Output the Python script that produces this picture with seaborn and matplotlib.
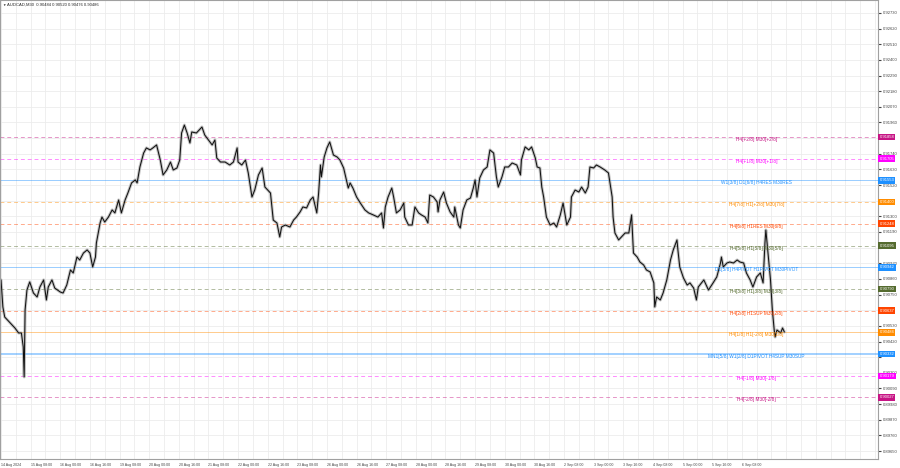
import matplotlib
matplotlib.use("Agg")
import matplotlib.pyplot as plt
import seaborn as sns
import pandas as pd

# AUDCAD M30, bar number counted from the left edge, and price
bar_idx = [0, 2, 4, 10, 15, 19, 22, 24, 25, 26, 28, 31, 35, 39, 42, 46, 49, 51, 55, 58,
           64, 67, 71, 75, 78, 82, 85, 89, 93, 96, 99, 102, 103, 107, 109, 112, 116, 120, 123, 127,
           130, 134, 137, 141, 145, 147, 150, 154, 157, 161, 164, 168, 172, 175, 179, 183, 186, 190, 193, 195,
           198, 201, 204, 206, 211, 217, 220, 224, 228, 231, 233, 237, 242, 247, 251, 255, 256, 260, 264, 267,
           271, 274, 278, 282, 285, 291, 294, 298, 301, 303, 307, 312, 316, 319, 323, 326, 330, 334, 337, 341,
           343, 345, 346, 349, 352, 355, 359, 363, 366, 370, 375, 377, 380, 384, 388, 393, 397, 402, 407, 411,
           413, 415, 418, 422, 424, 427, 431, 435, 436, 440, 444, 447, 451, 454, 458, 461, 463, 467, 471, 472,
           474, 478, 481, 485, 489, 490, 494, 496, 499, 503, 507, 510, 512, 514, 517, 521, 525, 528, 532, 535,
           537, 541, 544, 548, 552, 557, 561, 562, 566, 570, 573, 577, 579, 582, 584, 586, 589, 593, 597, 600,
           604, 607, 611, 615, 616, 620, 624, 627, 631, 634, 636, 640, 643, 647, 652, 656, 660, 661, 663, 667,
           670, 674, 678, 681, 683, 687, 690, 694, 697, 701, 705, 706, 708, 712, 715, 719, 723, 726, 730, 731,
           733, 737, 741, 744, 748, 751, 753, 759, 764, 769, 773, 777, 778, 780, 784, 787, 791, 795, 798, 802,
           805, 809, 812, 816, 820, 823, 825, 826, 828, 831, 833, 835, 836, 838, 842, 844, 846]
close = [0.90853, 0.90663, 0.90592, 0.90550, 0.90515, 0.90480, 0.90480, 0.90382, 0.90171, 0.90642,
         0.90782, 0.90839, 0.90761, 0.90733, 0.90803, 0.90853, 0.90712, 0.90803, 0.90853, 0.90796,
         0.90768, 0.90761, 0.90817, 0.90923, 0.90902, 0.91014, 0.90993, 0.91042, 0.91064, 0.91042,
         0.90944, 0.91014, 0.91113, 0.91253, 0.91295, 0.91260, 0.91295, 0.91345, 0.91324, 0.91415,
         0.91324, 0.91415, 0.91464, 0.91535, 0.91556, 0.91535, 0.91647, 0.91745, 0.91781, 0.91767,
         0.91781, 0.91802, 0.91696, 0.91591, 0.91626, 0.91682, 0.91626, 0.91640, 0.91696, 0.91886,
         0.91942, 0.91886, 0.91816, 0.91893, 0.91886, 0.91928, 0.91872, 0.91837, 0.91802, 0.91837,
         0.91710, 0.91682, 0.91682, 0.91661, 0.91682, 0.91781, 0.91682, 0.91661, 0.91696, 0.91605,
         0.91436, 0.91485, 0.91591, 0.91640, 0.91506, 0.91464, 0.91274, 0.91253, 0.91155, 0.91225,
         0.91239, 0.91225, 0.91274, 0.91295, 0.91331, 0.91366, 0.91359, 0.91415, 0.91436, 0.91324,
         0.91464, 0.91661, 0.91577, 0.91717, 0.91781, 0.91823, 0.91731, 0.91717, 0.91696, 0.91640,
         0.91499, 0.91535, 0.91499, 0.91436, 0.91394, 0.91345, 0.91324, 0.91310, 0.91295, 0.91324,
         0.91218, 0.91366, 0.91436, 0.91499, 0.91436, 0.91324, 0.91345, 0.91394, 0.91295, 0.91239,
         0.91239, 0.91366, 0.91324, 0.91310, 0.91295, 0.91253, 0.91450, 0.91436, 0.91401, 0.91331,
         0.91415, 0.91471, 0.91394, 0.91331, 0.91295, 0.91366, 0.91239, 0.91218, 0.91345, 0.91415,
         0.91429, 0.91499, 0.91556, 0.91436, 0.91570, 0.91626, 0.91647, 0.91767, 0.91745, 0.91577,
         0.91506, 0.91577, 0.91647, 0.91647, 0.91675, 0.91661, 0.91591, 0.91696, 0.91788, 0.91767,
         0.91788, 0.91710, 0.91647, 0.91640, 0.91506, 0.91436, 0.91295, 0.91239, 0.91253, 0.91225,
         0.91310, 0.91394, 0.91239, 0.91295, 0.91436, 0.91485, 0.91471, 0.91506, 0.91464, 0.91506,
         0.91647, 0.91640, 0.91661, 0.91647, 0.91626, 0.91605, 0.91436, 0.91295, 0.91183, 0.91134,
         0.91155, 0.91183, 0.91183, 0.91310, 0.91042, 0.91014, 0.90979, 0.90958, 0.90923, 0.90909,
         0.90832, 0.90663, 0.90733, 0.90712, 0.90761, 0.90853, 0.90993, 0.91064, 0.91134, 0.91064,
         0.90944, 0.90867, 0.90817, 0.90832, 0.90796, 0.90712, 0.90803, 0.90853, 0.90782, 0.90832,
         0.90874, 0.90972, 0.91014, 0.90944, 0.90972, 0.90979, 0.90972, 0.90993, 0.90979, 0.90972,
         0.90902, 0.90853, 0.90803, 0.90874, 0.90902, 0.90832, 0.91113, 0.91204, 0.91064, 0.90853,
         0.90642, 0.90501, 0.90452, 0.90501, 0.90480, 0.90515, 0.90487]

x_labels = ["14 Aug 2024", "15 Aug 08:00", "16 Aug 00:00", "16 Aug 16:00", "19 Aug 08:00",
            "20 Aug 00:00", "20 Aug 16:00", "21 Aug 08:00", "22 Aug 00:00", "22 Aug 16:00",
            "23 Aug 08:00", "26 Aug 00:00", "26 Aug 16:00", "27 Aug 08:00", "28 Aug 00:00",
            "28 Aug 16:00", "29 Aug 08:00", "30 Aug 00:00", "30 Aug 16:00", "2 Sep 08:00",
            "3 Sep 00:00", "3 Sep 16:00", "4 Sep 08:00", "5 Sep 00:00", "5 Sep 16:00", "6 Sep 08:00"]

y_ticks = [0.92730, 0.92620, 0.92510, 0.92400, 0.92290, 0.92180, 0.92070, 0.91960, 0.91850, 0.91740,
           0.91630, 0.91520, 0.91410, 0.91300, 0.91190, 0.91080, 0.90970, 0.90860, 0.90750, 0.90640,
           0.90530, 0.90420, 0.90310, 0.90200, 0.90090, 0.89980, 0.89870, 0.89760, 0.89650]
# these scale labels sit right under a level box on the chart
y_hidden = [0.91850, 0.91410, 0.91080, 0.90640, 0.90310]

# Murrey math levels
level_prices = [0.91858, 0.91705, 0.91553, 0.91400, 0.91248, 0.91095, 0.90942,
                0.90790, 0.90637, 0.90484, 0.90332, 0.90179, 0.90027]
level_names = ["H4[+2/8] M30[+2/8]", "H4[+1/8] M30[+1/8]", "W1[3/8] D1[6/8] H4RES M30RES",
               "H4[7/8] H1[+2/8] M30[7/8]", "H4[6/8] H1RES M30[6/8]", "H4[5/8] H1[5/8] M30[5/8]",
               "D1[5/8] H4PIVOT H1PIVOT M30PIVOT", "H4[3/8] H1[3/8] M30[3/8]", "H4[2/8] H1SUP M30[2/8]",
               "H4[1/8] H1[-2/8] M30[1/8]", "MN1[5/8] W1[2/8] D1PIVOT H4SUP M30SUP",
               "H4[-1/8] M30[-1/8]", "H4[-2/8] M30[-2/8]"]
level_colors = ["#c71585", "#ff00ff", "#1e90ff", "#ff8c00", "#ff4500", "#556b2f", "#1e90ff",
                "#556b2f", "#ff4500", "#ff8c00", "#1e90ff", "#ff00ff", "#c71585"]
level_dashed = [True, True, False, True, True, True, False, True, True, False, False, True, True]

title = "AUDCAD,M30  0.90484 0.90520 0.90476 0.90486"

sns.set_style("white")
plt.rcParams["font.family"] = ["Liberation Sans", "DejaVu Sans"]

fig = plt.figure(figsize=(9, 4.68), dpi=100)
ax = fig.add_axes([0, 9 / 468, 878 / 900, 459 / 468])

df = pd.DataFrame({"bar": bar_idx, "price": close})

# grey underlay gives the wick fuzz, black line the bodies
sns.lineplot(data=df, x="bar", y="price", color="#8a8a8a", lw=2.2, alpha=0.5,
             estimator=None, sort=False, ax=ax)
sns.lineplot(data=df, x="bar", y="price", color="#111111", lw=0.75,
             estimator=None, sort=False, ax=ax)

for p, name, c, dashed in zip(level_prices, level_names, level_colors, level_dashed):
    lw = 1.3 if name.startswith("MN1") else 0.7
    if dashed:
        ax.axhline(p, color=c, lw=lw, alpha=0.45, dashes=(4, 3), zorder=1)
    else:
        ax.axhline(p, color=c, lw=lw, alpha=0.45, zorder=1)
    ax.text(816, p, name, color=c, fontsize=3.4, ha="center", va="top", zorder=4)
    ax.text(1.0 + 1.5 / 878, p, f"{p:.5f}", transform=ax.get_yaxis_transform(),
            ha="left", va="center", fontsize=3, color="white", zorder=10, clip_on=False,
            bbox=dict(boxstyle="square,pad=0.3", fc=c, ec="none"))

ax.set_xlim(-1.1, 947.1)
ax.set_ylim(0.89594, 0.92821)

ax.set_xticks(range(0, 32 * len(x_labels), 32))
ax.set_xticklabels(x_labels)
ax.set_xticks(range(0, 947, 16), minor=True)
for lbl in ax.get_xticklabels():
    lbl.set_ha("left")

ax.yaxis.tick_right()
ax.set_yticks(y_ticks)
ax.set_yticklabels(["" if v in y_hidden else f"{v:.5f}" for v in y_ticks])

ax.tick_params(axis="x", which="major", labelsize=2.6, length=2, pad=1, colors="#444444")
ax.tick_params(axis="x", which="minor", length=0)
ax.tick_params(axis="y", labelsize=3, length=2, pad=1.5, colors="#444444")

ax.set_axisbelow(True)
ax.xaxis.grid(True, which="both", color="#ececec", lw=0.6)
ax.yaxis.grid(True, which="major", color="#ececec", lw=0.6)
ax.set_xlabel("")
ax.set_ylabel("")
for s in ax.spines.values():
    s.set_color("#a0a0a0")
    s.set_linewidth(0.8)

fig.text(2 / 900, 1 - 4.5 / 468, "\u25bc", fontsize=2.5, va="center", ha="left")
fig.text(7 / 900, 1 - 4.5 / 468, title, fontsize=3, va="center", ha="left")

fig.savefig("out.png", dpi=100)
